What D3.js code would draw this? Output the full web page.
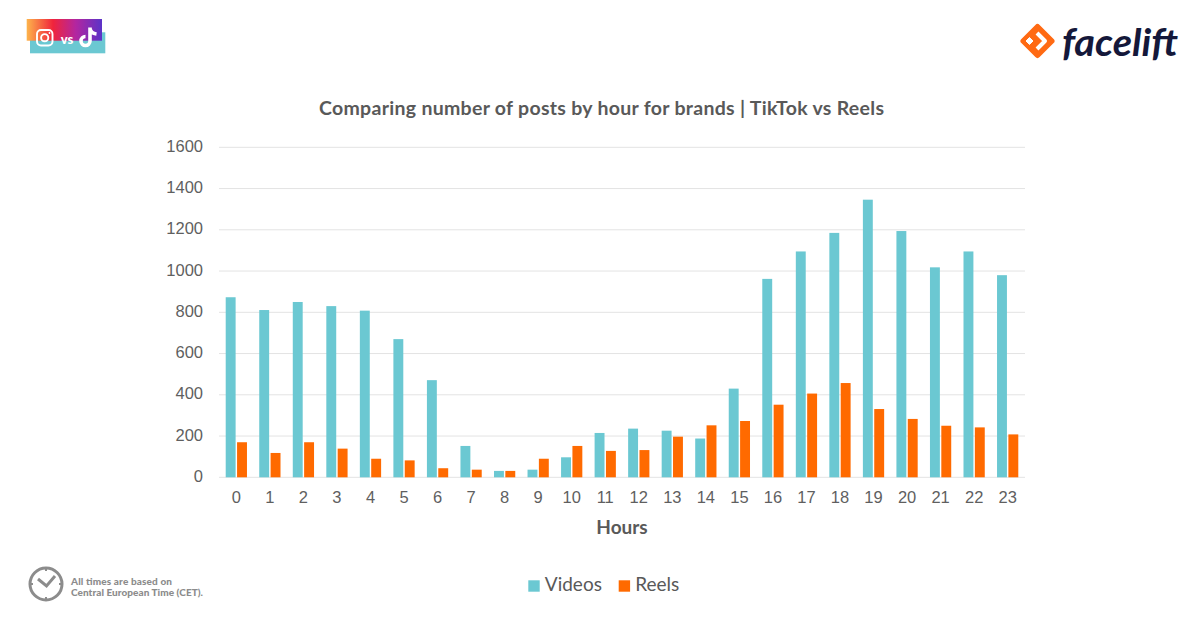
<!DOCTYPE html>
<html>
<head>
<meta charset="utf-8">
<script src="https://cdn.jsdelivr.net/npm/d3@7"></script>
<style>
    html, body { margin: 0; padding: 0; background: #fff; }
    svg { display: block; font-family: Lato, sans-serif; }
    .tick text { font-size: 16.5px; fill: #5f5f5f; }
    .domain { display: none; }
</style>
</head>
<body>
<div id="chart"></div>
<script>
const hours = d3.range(24).map(String);
const videos = [873, 811, 850, 830, 808, 670, 471, 152, 31, 37, 97, 215, 236, 226, 188, 430, 962, 1095, 1185, 1346, 1194, 1018, 1095, 980];
const reels = [170, 118, 170, 139, 90, 82, 44, 37, 31, 90, 152, 128, 132, 197, 252, 273, 352, 406, 457, 331, 283, 250, 242, 208];
const yTicks = [0, 200, 400, 600, 800, 1000, 1200, 1400, 1600];
const seriesNames = ['Videos', 'Reels'];
const seriesColors = ['#6bc8d2', '#ff6a00'];

const width = 1200, height = 628;
const plotLeft = 219, plotRight = 1025, plotTop = 147.3, plotBottom = 477.3;

const svg = d3.select('#chart').append('svg')
    .attr('width', width)
    .attr('height', height);

const xScale = d3.scaleBand().domain(hours).range([plotLeft, plotRight]).paddingInner(0.366).paddingOuter(0.2);
const xInner = d3.scaleBand().domain(seriesNames).range([0, xScale.bandwidth()]).paddingInner(0.127);
const yScale = d3.scaleLinear().domain([0, 1600]).range([plotBottom, plotTop]);

// gridlines + y axis
const yAxis = svg.append('g')
    .attr('transform', `translate(${plotLeft},0)`)
    .call(d3.axisLeft(yScale).tickValues(yTicks).tickFormat(d3.format('d')).tickSize(0).tickPadding(16).offset(0));
yAxis.selectAll('.tick line')
    .attr('x2', plotRight - plotLeft)
    .attr('stroke', '#e3e3e3');
yAxis.selectAll('.tick text').attr('dy', '0.28em');

const xAxis = svg.append('g')
    .attr('transform', `translate(0,${plotBottom})`)
    .call(d3.axisBottom(xScale).tickSize(0).tickPadding(14));

[videos, reels].forEach((values, s) => {
    svg.append('g').selectAll('rect')
        .data(values)
        .join('rect')
        .attr('x', (d, i) => xScale(hours[i]) + xInner(seriesNames[s]))
        .attr('y', d => yScale(d))
        .attr('width', xInner.bandwidth())
        .attr('height', d => yScale(0) - yScale(d))
        .attr('fill', seriesColors[s]);
});

svg.append('text')
    .attr('x', 319).attr('y', 114.5)
    .attr('font-size', 19.5).attr('font-weight', 700).attr('fill', '#595959')
    .attr('textLength', 565).attr('lengthAdjust', 'spacing')
    .text('Comparing number of posts by hour for brands | TikTok vs Reels');

svg.append('text')
    .attr('x', 622).attr('y', 533.5)
    .attr('text-anchor', 'middle')
    .attr('font-size', 19).attr('font-weight', 700).attr('fill', '#595959')
    .text('Hours');

// legend
const legendX = [528.3, 618.7];
const legend = svg.append('g');
seriesNames.forEach((name, i) => {
    legend.append('rect')
        .attr('x', legendX[i]).attr('y', 580.3)
        .attr('width', 11.4).attr('height', 11.4)
        .attr('fill', seriesColors[i]);
    legend.append('text')
        .attr('x', legendX[i] + 16.5).attr('y', 591)
        .attr('font-size', 19).attr('fill', '#595959')
        .text(name);
});

// Instagram vs TikTok badge
const defs = svg.append('defs');
const grad = defs.append('linearGradient').attr('id', 'badge');
[['0%', '#fdb44b'], ['35%', '#f0243c'], ['65%', '#b326a0'], ['100%', '#5b33c8']].forEach(d => {
    grad.append('stop').attr('offset', d[0]).attr('stop-color', d[1]);
});
const badge = svg.append('g');
badge.append('rect').attr('x', 30).attr('y', 32.3).attr('width', 75.3).attr('height', 21).attr('fill', '#6bc8d2');
badge.append('rect').attr('x', 26.7).attr('y', 19).attr('width', 75.3).attr('height', 21.7).attr('fill', 'url(#badge)');
badge.append('rect').attr('x', 37).attr('y', 30).attr('width', 15.5).attr('height', 15.5).attr('rx', 4)
    .attr('fill', 'none').attr('stroke', '#fff').attr('stroke-width', 1.9);
badge.append('circle').attr('cx', 44.7).attr('cy', 37.7).attr('r', 3.6)
    .attr('fill', 'none').attr('stroke', '#fff').attr('stroke-width', 1.9);
badge.append('circle').attr('cx', 49.5).attr('cy', 33).attr('r', 0.9).attr('fill', '#fff');
badge.append('text').attr('x', 67).attr('y', 43.5)
    .attr('text-anchor', 'middle').attr('font-size', 13).attr('font-weight', 900).attr('fill', '#fff')
    .text('vs');
badge.append('path')
    .attr('d', 'M90 27.5 V41 A4.5 4.5 0 1 1 85.5 36.5 M90 28.5 C90.5 31.5 92.5 33.5 96.5 34')
    .attr('fill', 'none').attr('stroke', '#fff').attr('stroke-width', 3.6);

// facelift logo
const logo = svg.append('g');
logo.append('path')
    .attr('d', 'M1037.5 27 L1051.5 41 L1037.5 55 L1023.5 41 Z')
    .attr('fill', '#ff6a13').attr('stroke', '#ff6a13').attr('stroke-width', 6).attr('stroke-linejoin', 'round');
logo.append('path')
    .attr('d', 'M1029.5 37.5 L1033 41 L1029.5 44.5 L1026 41 Z')
    .attr('fill', '#fff').attr('stroke', '#fff').attr('stroke-linejoin', 'round');
logo.append('path')
    .attr('d', 'M1037 33 L1045 41 L1037 49')
    .attr('fill', 'none').attr('stroke', '#fff').attr('stroke-width', 4).attr('stroke-linejoin', 'round');
logo.append('text')
    .attr('x', 1062).attr('y', 55.5)
    .attr('font-size', 38).attr('font-weight', 700).attr('font-style', 'italic')
    .attr('fill', '#14183a').attr('textLength', 116).attr('lengthAdjust', 'spacingAndGlyphs')
    .text('facelift');

// time note
const clock = svg.append('g').attr('fill', 'none').attr('stroke', '#8c8c8c').attr('stroke-width', 3);
clock.append('circle').attr('cx', 46).attr('cy', 584).attr('r', 16);
clock.append('path').attr('d', 'M38 579 L46.5 586 L55 576');
clock.append('path').attr('stroke-width', 2).attr('d', 'M46 567 V571 M46 597 V601 M29 584 H33 M59 584 H63');
const note = svg.append('g')
    .attr('font-size', 10).attr('font-weight', 900).attr('fill', '#8c8c8c');
note.append('text').attr('x', 71).attr('y', 585).attr('textLength', 101).text('All times are based on');
note.append('text').attr('x', 71).attr('y', 595.5).attr('textLength', 132).text('Central European Time (CET).');
</script>
</body>
</html>
